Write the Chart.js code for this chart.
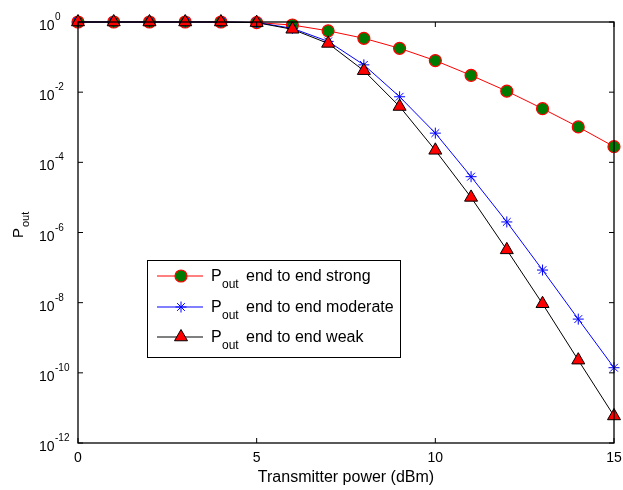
<!DOCTYPE html>
<html lang="en">
<head>
  <meta charset="UTF-8">
  <title>Pout vs transmitter power</title>
  <script src="https://cdn.jsdelivr.net/npm/chart.js"></script>
  <style>
    html, body { margin: 0; background: #fff; }
    #wrap { width: 623px; height: 490px; position: relative; }
  </style>
</head>
<body>
  <div id="wrap"><canvas id="chart"></canvas></div>
  <script>
    // data
    const powers = [0, 1, 2, 3, 4, 5, 6, 7, 8, 9, 10, 11, 12, 13, 14, 15];
    const strong = [1, 1, 1, 1, 1, 0.96, 0.82, 0.56, 0.343, 0.178, 0.0794, 0.0302, 0.0107, 0.00339, 0.00102, 0.00028];
    const moderate = [1, 1, 1, 1, 1, 0.97, 0.66, 0.28, 0.060, 0.0074, 6.8e-4, 3.9e-5, 2.0e-6, 8.5e-8, 3.4e-9, 1.4e-10];
    const weak = [1, 1, 1, 1, 1, 0.96, 0.62, 0.245, 0.041, 0.0039, 2.2e-4, 1.0e-5, 3.2e-7, 9.3e-9, 2.3e-10, 5.9e-12];
    const xTicks = [0, 5, 10, 15];
    const yExponents = [0, -2, -4, -6, -8, -10, -12];
    const seriesNames = ['end to end strong', 'end to end moderate', 'end to end weak'];

    const FONT = '"Liberation Sans", Arial, sans-serif';

    const toPts = ys => powers.map((x, i) => ({ x: x, y: ys[i] }));

    // frame, inward ticks, tick labels with superscripts, axis titles, legend
    const decor = {
      id: 'decor',
      afterDraw(chart) {
        const ctx = chart.ctx;
        const a = chart.chartArea;
        const xs = chart.scales.x, ys = chart.scales.y;
        ctx.save();
        ctx.strokeStyle = '#000';
        ctx.lineWidth = 1.3;
        ctx.strokeRect(a.left, a.top, a.right - a.left, a.bottom - a.top);

        ctx.fillStyle = '#000';
        ctx.lineWidth = 1;
        ctx.font = '14px ' + FONT;
        ctx.textAlign = 'center';
        ctx.textBaseline = 'middle';
        xTicks.forEach(v => {
          const px = xs.getPixelForValue(v);
          ctx.beginPath();
          ctx.moveTo(px, a.bottom); ctx.lineTo(px, a.bottom - 5);
          ctx.moveTo(px, a.top); ctx.lineTo(px, a.top + 5);
          ctx.stroke();
          ctx.fillText(String(v), px, a.bottom + 15);
        });

        yExponents.forEach(e => {
          const py = ys.getPixelForValue(Math.pow(10, e));
          ctx.beginPath();
          ctx.moveTo(a.left, py); ctx.lineTo(a.left + 5, py);
          ctx.moveTo(a.right, py); ctx.lineTo(a.right - 5, py);
          ctx.stroke();
          ctx.textAlign = 'left';
          ctx.textBaseline = 'alphabetic';
          ctx.font = '14px ' + FONT;
          ctx.fillText('10', 39, py + 8);
          ctx.font = '10px ' + FONT;
          ctx.fillText(String(e), 55, py - 2);
        });

        // axis titles
        ctx.font = '16px ' + FONT;
        ctx.textAlign = 'center';
        ctx.textBaseline = 'middle';
        ctx.fillText('Transmitter power (dBm)', (a.left + a.right) / 2, 478);

        ctx.save();
        ctx.translate(18, 226);
        ctx.rotate(-Math.PI / 2);
        ctx.textAlign = 'left';
        ctx.textBaseline = 'alphabetic';
        ctx.font = '15px ' + FONT;
        ctx.fillText('P', -12, 5);
        ctx.font = '11px ' + FONT;
        ctx.fillText('out', -1, 11);
        ctx.restore();

        // legend
        const box = { x: 147, y: 260, w: 253, h: 97 };
        ctx.fillStyle = '#fff';
        ctx.fillRect(box.x, box.y, box.w, box.h);
        ctx.strokeStyle = '#000';
        ctx.lineWidth = 1;
        ctx.strokeRect(box.x + 0.5, box.y + 0.5, box.w, box.h);
        const rows = [276, 307, 337];
        chart.data.datasets.forEach((ds, i) => {
          const ry = rows[i];
          ctx.strokeStyle = ds.borderColor;
          ctx.lineWidth = 1;
          ctx.beginPath();
          ctx.moveTo(157, ry); ctx.lineTo(203, ry);
          ctx.stroke();
          ctx.fillStyle = ds.pointBackgroundColor;
          ctx.strokeStyle = ds.pointBorderColor;
          ctx.lineWidth = ds.pointBorderWidth;
          Chart.helpers.drawPoint(ctx, {
            pointStyle: ds.pointStyle,
            rotation: 0,
            radius: ds.pointRadius,
            borderWidth: ds.pointBorderWidth
          }, 181, ry);
          ctx.fillStyle = '#000';
          ctx.textAlign = 'left';
          ctx.textBaseline = 'alphabetic';
          ctx.font = '16px ' + FONT;
          ctx.fillText('P', 211, ry + 5);
          ctx.font = '12px ' + FONT;
          ctx.fillText('out', 222, ry + 12);
          ctx.font = '16px ' + FONT;
          ctx.fillText(seriesNames[i], 246, ry + 5);
        });
        ctx.restore();
      }
    };

    new Chart(document.getElementById('chart'), {
      type: 'line',
      data: {
        datasets: [
          {
            data: toPts(strong),
            borderColor: '#ff0000',
            borderWidth: 1,
            pointStyle: 'circle',
            pointRadius: 6,
            pointBackgroundColor: '#007a00',
            pointBorderColor: '#ff0000',
            pointBorderWidth: 1.2,
            clip: false,
            order: 2
          },
          {
            data: toPts(moderate),
            borderColor: '#0000ff',
            borderWidth: 1,
            pointStyle: 'star',
            pointRadius: 5.5,
            pointBackgroundColor: '#0000ff',
            pointBorderColor: '#0000ff',
            pointBorderWidth: 1,
            clip: false,
            order: 1
          },
          {
            data: toPts(weak),
            borderColor: '#000000',
            borderWidth: 1,
            pointStyle: 'triangle',
            pointRadius: 7.5,
            pointBackgroundColor: '#ff0000',
            pointBorderColor: '#000000',
            pointBorderWidth: 1,
            clip: false,
            order: 0
          }
        ]
      },
      options: {
        responsive: true,
        maintainAspectRatio: false,
        animation: false,
        layout: { padding: { left: 78, right: 9, top: 22, bottom: 47 } },
        scales: {
          x: { type: 'linear', min: 0, max: 15, display: false },
          y: { type: 'logarithmic', min: 1e-12, max: 1, display: false }
        },
        plugins: {
          legend: { display: false },
          tooltip: { enabled: false }
        }
      },
      plugins: [decor]
    });
  </script>
</body>
</html>
